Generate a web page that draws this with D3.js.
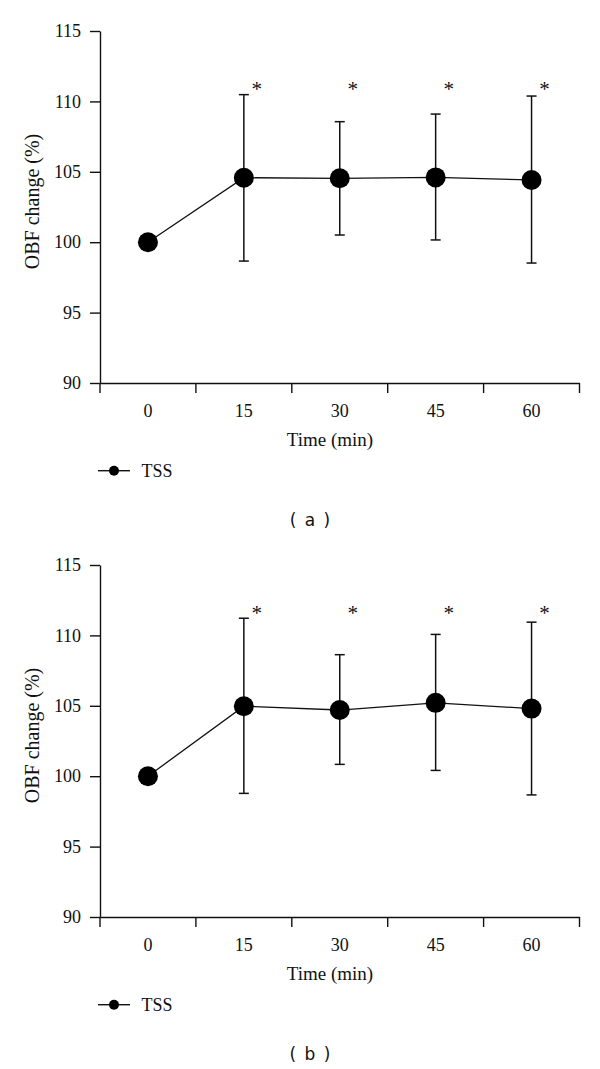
<!DOCTYPE html>
<html>
<head>
<meta charset="utf-8">
<script src="https://cdn.jsdelivr.net/npm/d3@7/dist/d3.min.js"></script>
<style>
  html, body { margin: 0; padding: 0; background: #fff; }
  svg { display: block; }
</style>
</head>
<body>
<svg id="chart" width="600" height="1069"></svg>
<script>
// ---- data ----
const timeLabels = ["0", "15", "30", "45", "60"];
const yTicks = [90, 95, 100, 105, 110, 115];

const meanA  = [100, 104.58, 104.54, 104.60, 104.42];
const upperA = [null, 110.48, 108.56, 109.10, 110.38];
const lowerA = [null, 98.66, 100.51, 100.16, 98.52];
const sigA   = [false, true, true, true, true];

const meanB  = [100, 104.97, 104.70, 105.21, 104.80];
const upperB = [null, 111.22, 108.63, 110.07, 110.94];
const lowerB = [null, 98.78, 100.84, 100.41, 98.67];
const sigB   = [false, true, true, true, true];

const seriesName = "TSS";
const xTitle = "Time (min)";
const yTitle = "OBF change (%)";
const panelLabels = ["( a )", "( b )"];

// ---- drawing ----
const svg = d3.select("#chart");
const SERIF = "'Liberation Serif', 'Times New Roman', serif";
const fs = 18;

function serif(sel, size) {
  return sel.style("font-family", SERIF).style("font-size", size + "px").attr("fill", "#111");
}

function drawPanel(offsetY, mean, upper, lower, sig, label) {
  const g = svg.append("g").attr("transform", `translate(0,${offsetY})`);
  const x = d3.scaleBand().domain(timeLabels).range([100, 579.5]).paddingInner(0).paddingOuter(0);
  const y = d3.scaleLinear().domain([90, 115]).range([383, 31]);
  const bw = x.bandwidth();
  const cx = i => x(timeLabels[i]) + bw / 2;

  // y axis
  const yAxis = g.append("g").attr("transform", "translate(100,0)")
    .call(d3.axisLeft(y).tickValues(yTicks).tickSize(10).tickSizeOuter(0).tickPadding(9));
  yAxis.selectAll("path,line").attr("stroke", "#111").attr("stroke-width", 1.4);
  serif(yAxis.selectAll("text"), fs);

  // x axis (labels centered in bands)
  const xAxis = g.append("g").attr("transform", "translate(0,383)")
    .call(d3.axisBottom(x).tickSize(0).tickSizeOuter(0).tickPadding(21));
  xAxis.select("path").attr("stroke", "#111").attr("stroke-width", 1.4);
  serif(xAxis.selectAll("text"), fs);
  // boundary ticks
  const bounds = timeLabels.map(d => x(d)).concat([x.range()[1]]);
  xAxis.selectAll("line.bound").data(bounds).enter().append("line")
    .attr("class", "bound")
    .attr("x1", d => d).attr("x2", d => d)
    .attr("y1", 0).attr("y2", 10)
    .attr("stroke", "#111").attr("stroke-width", 1.4);

  // axis titles
  serif(g.append("text"), 19)
    .attr("text-anchor", "middle").attr("x", 330).attr("y", 446).text(xTitle);
  serif(g.append("text"), 20)
    .attr("text-anchor", "middle")
    .attr("transform", `translate(39,201.5) rotate(-90)`).text(yTitle);

  // error bars
  const idx = d3.range(mean.length).filter(i => upper[i] != null);
  const eb = g.append("g").attr("stroke", "#111").attr("stroke-width", 1.5);
  idx.forEach(i => {
    eb.append("line").attr("x1", cx(i)).attr("x2", cx(i)).attr("y1", y(lower[i])).attr("y2", y(upper[i]));
    eb.append("line").attr("x1", cx(i) - 5).attr("x2", cx(i) + 5).attr("y1", y(upper[i])).attr("y2", y(upper[i]));
    eb.append("line").attr("x1", cx(i) - 5).attr("x2", cx(i) + 5).attr("y1", y(lower[i])).attr("y2", y(lower[i]));
  });

  // line
  const line = d3.line().x((d, i) => cx(i)).y(d => y(d));
  g.append("path").datum(mean).attr("d", line)
    .attr("fill", "none").attr("stroke", "#111").attr("stroke-width", 1.3);

  // points
  g.selectAll("circle.pt").data(mean).enter().append("circle")
    .attr("class", "pt").attr("cx", (d, i) => cx(i)).attr("cy", d => y(d)).attr("r", 10).attr("fill", "#000");

  // significance asterisks
  const starLevel = d3.max(upper) + 0.65;
  serif(g.selectAll("text.star").data(sig.map((s, i) => ({ s, i })).filter(d => d.s)).enter().append("text")
    .attr("class", "star"), 21)
    .attr("text-anchor", "middle")
    .attr("x", d => cx(d.i) + 13).attr("y", y(starLevel) + 11).text("*");

  // legend
  g.append("line").attr("x1", 98).attr("x2", 130).attr("y1", 470.7).attr("y2", 470.7)
    .attr("stroke", "#111").attr("stroke-width", 1.4);
  g.append("circle").attr("cx", 114).attr("cy", 470.7).attr("r", 5).attr("fill", "#000");
  serif(g.append("text"), fs).attr("x", 141.5).attr("y", 477).text(seriesName);

  // panel label
  g.append("text").style("font-family", "'DejaVu Sans', Verdana, sans-serif").style("font-size", "17px")
    .attr("fill", "#111").attr("text-anchor", "middle").attr("word-spacing", 3)
    .attr("x", 310).attr("y", 526).text(label);
}

drawPanel(0, meanA, upperA, lowerA, sigA, panelLabels[0]);
drawPanel(534, meanB, upperB, lowerB, sigB, panelLabels[1]);
</script>
</body>
</html>
